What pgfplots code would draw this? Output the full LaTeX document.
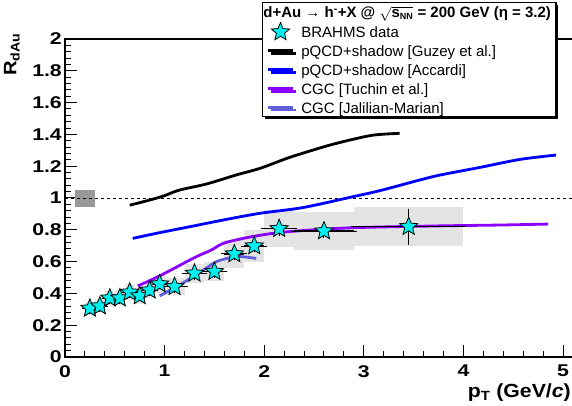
\documentclass[border=0pt]{standalone}
\usepackage{fontspec}
\setmainfont{Liberation Sans}
\newfontfamily\tickfont{Liberation Sans}[FakeStretch=1.25]
\newfontfamily\lblfont{Liberation Sans}[FakeStretch=1.12]
\usepackage{pgfplots}
\usepackage{pgfplotstable}
\pgfplotsset{compat=1.18}
\usetikzlibrary{shadows}
\definecolor{starcyan}{RGB}{0,240,240}
\definecolor{tuchin}{RGB}{140,0,255}
\definecolor{jalilian}{RGB}{95,95,220}
\definecolor{sysgray}{RGB}{228,228,228}
\definecolor{normgray}{RGB}{153,153,153}

\pgfdeclareplotmark{fstar}{%
  \pgfpathmoveto{\pgfpointpolar{90}{\pgfplotmarksize}}%
  \pgfpathlineto{\pgfpointpolar{126}{0.45*\pgfplotmarksize}}%
  \pgfpathlineto{\pgfpointpolar{162}{\pgfplotmarksize}}%
  \pgfpathlineto{\pgfpointpolar{198}{0.45*\pgfplotmarksize}}%
  \pgfpathlineto{\pgfpointpolar{234}{\pgfplotmarksize}}%
  \pgfpathlineto{\pgfpointpolar{270}{0.45*\pgfplotmarksize}}%
  \pgfpathlineto{\pgfpointpolar{306}{\pgfplotmarksize}}%
  \pgfpathlineto{\pgfpointpolar{342}{0.45*\pgfplotmarksize}}%
  \pgfpathlineto{\pgfpointpolar{18}{\pgfplotmarksize}}%
  \pgfpathlineto{\pgfpointpolar{54}{0.45*\pgfplotmarksize}}%
  \pgfpathclose
  \pgfusepathqfillstroke}

\pgfplotsset{
  lineleg/.style={legend image code/.code={\draw[##1] (0pt,0pt) -- (25pt,0pt);}},
  starleg/.style={legend image code/.code={\draw[##1] plot coordinates {(12.5pt,0pt)};}},
}

\newcommand\lstrut{\rule[-4.5pt]{0pt}{17.3pt}}
\newcommand\sysbox[4]{\addplot[fill=sysgray, draw=none, forget plot] coordinates {(#1,#3) (#2,#3) (#2,#4) (#1,#4)} -- cycle;}

% BRAHMS data: x, y, x half-width, stat. error
\pgfplotstableread{
x     y      ex    ey
0.25  0.306  0.05  0.015
0.35  0.320  0.05  0.015
0.45  0.370  0.05  0.015
0.55  0.370  0.05  0.015
0.65  0.407  0.05  0.015
0.75  0.384  0.05  0.015
0.85  0.420  0.05  0.015
0.95  0.459  0.05  0.015
1.10  0.442  0.10  0.02
1.30  0.526  0.10  0.02
1.50  0.537  0.10  0.02
1.70  0.648  0.10  0.02
1.90  0.698  0.10  0.02
2.15  0.807  0.15  0.025
2.60  0.792  0.30  0.025
3.45  0.820  0.55  0.095
}\brahms

\begin{document}
\begin{tikzpicture}
\begin{axis}[
  scale only axis,
  width=509pt, height=318pt,
  xmin=0, xmax=5.11, ymin=0, ymax=2,
  xtick={0,1,2,3,4,5},
  ytick={0,0.2,0.4,0.6,0.8,1,1.2,1.4,1.6,1.8,2},
  minor x tick num=4, minor y tick num=4,
  tick align=inside, tick pos=left,
  major tick length=12pt, minor tick length=6pt,
  every tick/.style={black, line width=1pt},
  axis line style={line width=1.5pt},
  /pgf/number format/assume math mode=true,
  tick label style={font=\tickfont\bfseries\fontsize{17}{17}\selectfont},
  yticklabel style={inner sep=0pt, xshift=-3pt},
  xticklabel style={inner sep=0pt, yshift=-8pt},
  xlabel={\textbf{p\textsubscript{T} (GeV/\textit{c})}},
  xlabel style={font=\lblfont\fontsize{19}{19}\selectfont, at={(axis description cs:1,0)}, anchor=base east, inner sep=0pt, yshift=-40pt, xshift=-3pt},
  legend cell align=left,
  legend style={draw=black, line width=1.2pt, fill=white,
    at={(axis description cs:0,1)}, anchor=north west, xshift=197pt, yshift=37pt,
    inner xsep=4pt, inner ysep=1pt, row sep=2.6pt, column sep=6pt,
    font=\fontsize{15}{17}\selectfont,
    nodes={inner sep=1pt},
    drop shadow={shadow xshift=2.5pt, shadow yshift=-2.5pt, opacity=1, fill=black}},
]
% systematic boxes
\sysbox{0.2}{0.3}{0.266}{0.346}
\sysbox{0.3}{0.4}{0.280}{0.360}
\sysbox{0.4}{0.5}{0.325}{0.415}
\sysbox{0.5}{0.6}{0.325}{0.415}
\sysbox{0.6}{0.7}{0.357}{0.457}
\sysbox{0.7}{0.8}{0.334}{0.434}
\sysbox{0.8}{0.9}{0.370}{0.470}
\sysbox{0.9}{1.0}{0.404}{0.514}
\sysbox{1.0}{1.2}{0.387}{0.497}
\sysbox{1.2}{1.4}{0.466}{0.586}
\sysbox{1.4}{1.6}{0.477}{0.597}
\sysbox{1.6}{1.8}{0.558}{0.738}
\sysbox{1.8}{2.0}{0.598}{0.798}
\sysbox{2.0}{2.3}{0.690}{0.924}
\sysbox{2.3}{2.9}{0.672}{0.912}
\sysbox{2.9}{4.0}{0.695}{0.945}
% normalization box
\addplot[fill=normgray, draw=none, forget plot] coordinates {(0.1,0.945) (0.3,0.945) (0.3,1.05) (0.1,1.05)} -- cycle;
% unity line
\addplot[black, line width=0.8pt, dash pattern=on 3pt off 3pt, forget plot] coordinates {(0,1) (5.11,1)};
% theory curves
\addplot[black, line width=2.8pt, smooth, forget plot] coordinates {(0.65,0.955)(0.85,0.987)(1.0,1.015)(1.15,1.05)(1.42,1.088)(1.72,1.145)(1.96,1.187)(2.23,1.25)(2.43,1.29)(2.66,1.333)(2.89,1.369)(3.10,1.396)(3.36,1.407)};
\addplot[blue, line width=2.8pt, smooth, forget plot] coordinates {(0.68,0.746)(0.95,0.782)(1.29,0.824)(1.60,0.863)(1.96,0.904)(2.39,0.94)(2.89,1.008)(3.16,1.046)(3.56,1.113)(3.77,1.145)(4.17,1.193)(4.57,1.243)(4.93,1.27)};
\addplot[tuchin, line width=2.8pt, smooth, forget plot] coordinates {(0.73,0.447)(0.95,0.51)(1.3,0.625)(1.47,0.673)(1.59,0.715)(1.82,0.75)(2.09,0.778)(2.36,0.794)(2.89,0.813)(3.7,0.824)(4.37,0.83)(4.85,0.836)};
\addplot[jalilian, line width=2.8pt, smooth, forget plot] coordinates {(0.95,0.384)(1.17,0.46)(1.3,0.51)(1.44,0.568)(1.52,0.60)(1.64,0.622)(1.75,0.632)(1.92,0.62)};
% data
\addplot[forget plot, only marks, mark=fstar, mark size=9.5pt, mark options={fill=starcyan, draw=black, line width=0.8pt},
  error bars/.cd, x dir=both, x explicit, y dir=both, y explicit,
  error bar style={line width=1.2pt, black}, error mark options={black, mark size=3pt, line width=1pt}]
  table[x=x, y=y, x error=ex, y error=ey] {\brahms};
% legend
\addlegendimage{empty legend}
\addlegendentry{\hspace*{-38pt}\textbf{d+Au → h\textsuperscript{-}+X @ $\sqrt{\mbox{\textbf{s}}_{\mbox{\fontsize{9}{9}\selectfont\bfseries NN}}}$ = 200 GeV (η = 3.2)}\lstrut}
\addlegendimage{starleg, only marks, mark=fstar, mark size=9.5pt, mark options={fill=starcyan, draw=black, line width=0.8pt}}
\addlegendentry{BRAHMS data\lstrut}
\addlegendimage{lineleg, black, line width=2.8pt}
\addlegendentry{pQCD+shadow [Guzey et al.]\lstrut}
\addlegendimage{lineleg, blue, line width=2.8pt}
\addlegendentry{pQCD+shadow [Accardi]\lstrut}
\addlegendimage{lineleg, tuchin, line width=2.8pt}
\addlegendentry{CGC [Tuchin et al.]\lstrut}
\addlegendimage{lineleg, jalilian, line width=2.8pt}
\addlegendentry{CGC [Jalilian-Marian]\lstrut}
\end{axis}
\node[rotate=90, anchor=south east, inner sep=0pt, font=\lblfont\fontsize{18}{18}\selectfont]
  at ([xshift=-45pt, yshift=6pt]current axis.north west) {\textbf{R\textsubscript{dAu}}};
\pgfresetboundingbox
\useasboundingbox ([xshift=-65pt, yshift=-49pt]current axis.south west) rectangle ++(572pt,406pt);
\end{tikzpicture}
\end{document}
